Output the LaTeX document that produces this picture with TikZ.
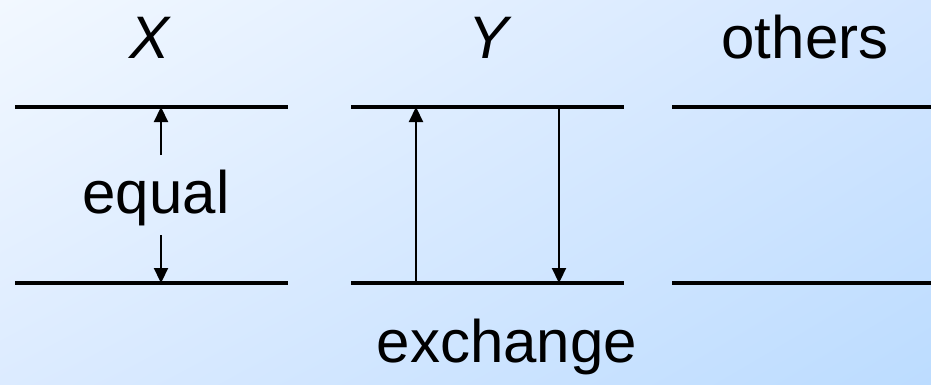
\documentclass[tikz,border=0pt]{standalone}
\usepackage{fontspec}
\setmainfont{Liberation Sans}
\usetikzlibrary{arrows.meta,shadings}
\definecolor{bgTL}{HTML}{F2F8FF}
\definecolor{bgTR}{HTML}{D3E6FF}
\definecolor{bgBL}{HTML}{DCEBFF}
\definecolor{bgBR}{HTML}{BCDCFF}
\tikzset{
  level/.style={line width=3.2pt},
  transition/.style={line width=2.2pt,-{Triangle[length=15pt,width=14pt]}},
  lbl/.style={anchor=base,inner sep=0pt,font=\fontsize{60}{70}\selectfont},
}
\begin{document}
\begin{tikzpicture}[x=1pt,y=-1pt]
\useasboundingbox (0,0) rectangle (931,384);
\shade[upper left=bgTL,upper right=bgTR,lower left=bgBL,lower right=bgBR] (0,0) rectangle (931,384);
% level end points
\coordinate (x1l) at (15,107);  \coordinate (x1r) at (288,107);
\coordinate (x0l) at (15,283);  \coordinate (x0r) at (288,283);
\coordinate (y1l) at (351,107); \coordinate (y1r) at (624,107);
\coordinate (y0l) at (351,283); \coordinate (y0r) at (624,283);
\coordinate (o1l) at (672,107); \coordinate (o1r) at (931,107);
\coordinate (o0l) at (672,283); \coordinate (o0r) at (931,283);
% labels
\node[lbl] (lx) at (150,58) {\itshape X};
\node[lbl] (ly) at (489,58) {\itshape Y};
\node[lbl] (lo) at (805,58) {others};
\node[lbl] (eq) at (156,213) {equal};
\node[lbl] (ex) at (507,362) {exchange};
% arrow coordinates
\coordinate (eqtop) at (161,107);
\coordinate (eqbot) at (161,283);
\coordinate (eqs1) at (161,155);
\coordinate (eqs2) at (161,235);
\coordinate (upS) at (416,283); \coordinate (upE) at (416,107);
\coordinate (dnS) at (559,107); \coordinate (dnE) at (559,283);
% transitions
\draw[transition] (eqs1) -- (eqtop);
\draw[transition] (eqs2) -- (eqbot);
\draw[transition] (upS) -- (upE);
\draw[transition] (dnS) -- (dnE);
% levels
\draw[level] (x1l) -- (x1r);
\draw[level] (x0l) -- (x0r);
\draw[level] (y1l) -- (y1r);
\draw[level] (y0l) -- (y0r);
\draw[level] (o1l) -- (o1r);
\draw[level] (o0l) -- (o0r);
\end{tikzpicture}
\end{document}
